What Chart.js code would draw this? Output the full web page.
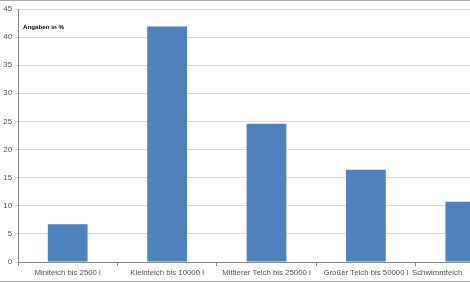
<!DOCTYPE html>
<html lang="de">
<head>
<meta charset="UTF-8" />
<title>Teichgrößen</title>
<script src="https://cdn.jsdelivr.net/npm/chart.js@4.4.3/dist/chart.umd.js"></script>
<style>
  *{box-sizing:border-box;margin:0;padding:0}
  html,body{width:470px;height:282px;overflow:hidden;background:#fff}
  .frame{position:relative;width:515px;height:282px;border-top:1px solid #a6a6a6;border-bottom:1px solid #a6a6a6}
  canvas{display:block}
  .note{position:absolute;left:23px;top:22px;font:bold 6.2px "Liberation Sans",Arial,sans-serif;color:#000}
</style>
</head>
<body>
<div class="frame">
  <canvas id="chart" width="515" height="280"></canvas>
  <div class="note">Angaben in %</div>
</div>
<script>
  // categories and values (Angaben in %)
  const categories = ['Miniteich bis 2500 l','Kleinteich bis 10000 l','Mittlerer Teich bis 25000 l','Großer Teich bis 50000 l','Schwimmteich'];
  const values = [6.7, 41.9, 24.6, 16.4, 10.7];
  const yTicks = [0,5,10,15,20,25,30,35,40,45];

  const font = {family:'"Liberation Sans", Arial, sans-serif', size:7.8};

  new Chart(document.getElementById('chart'), {
    type:'bar',
    data:{
      labels:categories,
      datasets:[{data:values,backgroundColor:'#4f81bd',borderWidth:0,barPercentage:0.4,categoryPercentage:1}]
    },
    options:{
      responsive:false,animation:false,
      layout:{padding:{top:8,left:0,right:0,bottom:0}},
      plugins:{legend:{display:false},tooltip:{enabled:false}},
      scales:{
        x:{
          grid:{drawOnChartArea:false,drawTicks:true,tickLength:4,color:'#868686'},
          border:{color:'#868686'},
          ticks:{
            font,color:'#505050',padding:2,maxRotation:0,autoSkip:false,
            // last label is cut by the page edge; pad it so it starts where the original does
            callback:function(v,i){const l=this.getLabelForValue(v);return i===categories.length-1?l+' '.repeat(26):l;}
          },
          afterFit:s=>{s.height=19;s.paddingLeft=0;s.paddingRight=0;}
        },
        y:{
          min:0,max:45,
          afterBuildTicks:s=>{s.ticks=yTicks.map(v=>({value:v}));},
          grid:{color:'#d9d9d9',tickLength:3,drawTicks:true},
          border:{color:'#868686'},
          ticks:{font,color:'#505050',padding:3},
          afterFit:s=>{s.width=18;}
        }
      }
    }
  });
</script>
</body>
</html>
